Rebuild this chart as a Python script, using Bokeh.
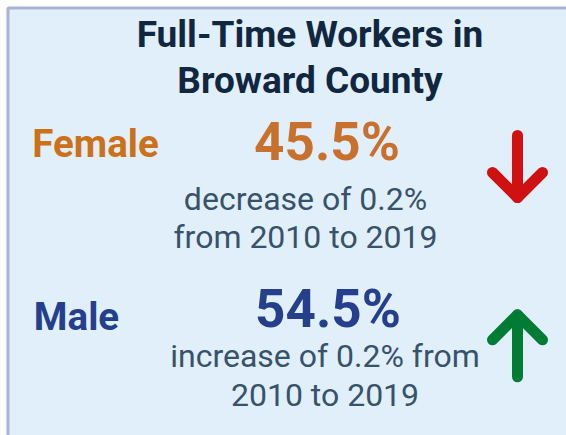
from bokeh.plotting import figure
from bokeh.models import Range1d, ColumnDataSource
from bokeh.core.properties import value
from bokeh.embed import file_html
from bokeh.resources import INLINE

# ---- data ----
title_lines = ["Full-Time Workers in", "Broward County"]
groups = ["Female", "Male"]
share_pct = [45.5, 54.5]
change_pct = [-0.2, 0.2]
year_from = 2010
year_to = 2019

# ---- styles / layout ----
W, H = 566, 435
BG = "#e1effb"
BORDER = "#a8b3d4"
TITLE_C = "#10273f"
NOTE_C = "#37526a"
label_colors = ["#cc7119", "#243f8e"]
value_colors = ["#c8712e", "#263f8d"]
arrow_colors = ["#d01111", "#017c35"]
FONT = value("Roboto")
K = 0.35  # baseline correction factor (fraction of font size)

TITLE_FS, LABEL_FS, VALUE_FS, NOTE_FS = 37, 38.5, 53, 32
title_x = 309.5
title_base = [47.3, 92.7]
label_x = [95, 76]
label_base = [156, 329]
value_x = [326.5, 327.5]
value_base = [160, 327]
note_x = [305, 324.5]
note_base = [[210, 248], [367, 406]]
break_after = [3, 4]
arrow_x = 517
arrow_mid = [166, 345.3]
arrow_half = 31
wing = 25

def fix(ys, fs):
    return [y - K * fs for y in ys]

p = figure(width=W, height=H, output_backend="svg", toolbar_location=None,
           x_range=Range1d(0, W), y_range=Range1d(H, 0), min_border=0)
p.axis.visible = False
p.grid.visible = False
p.outline_line_color = None
p.background_fill_color = "white"
p.border_fill_color = "white"

# panel with top/left border
p.quad(left=[7.5], right=[W + 20], top=[7.5], bottom=[H + 20],
       fill_color=BG, line_color=BORDER, line_width=3)

# title
p.text(x=[title_x, title_x], y=fix(title_base, TITLE_FS), text=title_lines, text_font=FONT,
       text_font_size=f"{TITLE_FS}px", text_font_style="bold", text_align="center",
       text_baseline="alphabetic", text_color=TITLE_C)

src = ColumnDataSource(dict(
    lx=label_x, ly=fix(label_base, LABEL_FS), label=groups, lc=label_colors,
    vx=value_x, vy=fix(value_base, VALUE_FS), val=[f"{v:.1f}%" for v in share_pct], vc=value_colors,
))
p.text(x="lx", y="ly", text="label", source=src, text_font=FONT, text_font_size=f"{LABEL_FS}px",
       text_font_style="bold", text_align="center", text_baseline="alphabetic", text_color="lc")
p.text(x="vx", y="vy", text="val", source=src, text_font=FONT, text_font_size=f"{VALUE_FS}px",
       text_font_style="bold", text_align="center", text_baseline="alphabetic", text_color="vc")

# notes
nx, ny, nt = [], [], []
for i, c in enumerate(change_pct):
    word = "decrease" if c < 0 else "increase"
    words = f"{word} of {abs(c):.1f}% from {year_from} to {year_to}".split(" ")
    k = break_after[i]
    for j, line in enumerate([" ".join(words[:k]), " ".join(words[k:])]):
        nx.append(note_x[i]); ny.append(note_base[i][j] - K * NOTE_FS); nt.append(line)
p.text(x=nx, y=ny, text=nt, text_font=FONT, text_font_size=f"{NOTE_FS}px",
       text_align="center", text_baseline="alphabetic", text_color=NOTE_C)

# arrows
for i, c in enumerate(change_pct):
    m = arrow_mid[i]
    d = 1 if c < 0 else -1  # +1 points down (screen)
    tip = m + d * arrow_half
    tail = m - d * arrow_half
    xs = [[arrow_x, arrow_x], [arrow_x - wing, arrow_x, arrow_x + wing]]
    ys = [[tail, tip], [tip - d * wing, tip, tip - d * wing]]
    p.multi_line(xs=xs, ys=ys, line_color=arrow_colors[i], line_width=11,
                 line_cap="round", line_join="round")

open("out.html", "w").write(file_html(p, INLINE))
